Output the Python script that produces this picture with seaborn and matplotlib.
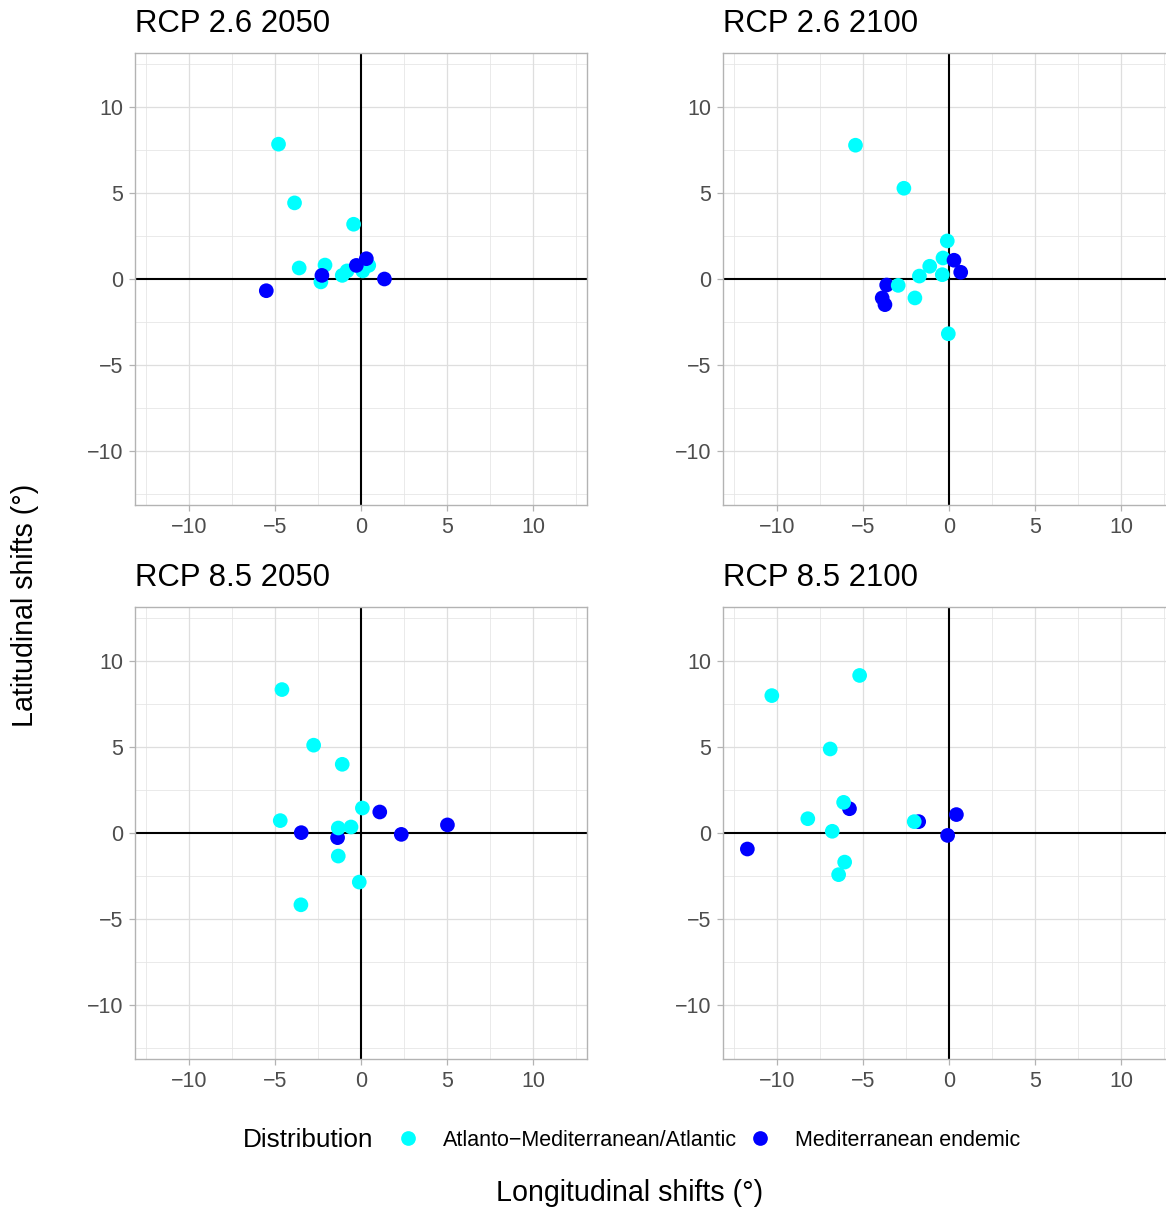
import numpy as np
import pandas as pd
import matplotlib
matplotlib.use("Agg")
import matplotlib.pyplot as plt
import seaborn as sns

# valores (deslocamentos em graus)
grupos = ["Atlanto−Mediterranean/Atlantic", "Mediterranean endemic"]
cores = {"Atlanto−Mediterranean/Atlantic": "#00FFFF", "Mediterranean endemic": "#0000FF"}
A, M = grupos

titulos = ["RCP 2.6 2050", "RCP 2.6 2100", "RCP 8.5 2050", "RCP 8.5 2100"]

lon_26_2050 = [-4.79, -3.86, -0.43, -3.59, -2.09, -2.33, -2.27, -5.50, -1.09, -0.81, 0.45, 0.10, -0.27, 0.31, 1.36]
lat_26_2050 = [7.83, 4.42, 3.18, 0.64, 0.81, -0.17, 0.21, -0.68, 0.21, 0.47, 0.79, 0.47, 0.79, 1.18, 0.00]
dist_26_2050 = [A, A, A, A, A, A, M, M, A, A, A, A, M, M, M]

lon_26_2100 = [-5.43, -2.62, -0.10, -0.35, 0.29, 0.68, -1.12, -1.72, -0.39, -3.62, -2.95, -3.88, -3.72, -1.98, -0.04]
lat_26_2100 = [7.77, 5.27, 2.21, 1.22, 1.09, 0.39, 0.74, 0.17, 0.25, -0.35, -0.37, -1.10, -1.49, -1.10, -3.18]
dist_26_2100 = [A, A, A, A, M, M, A, A, A, M, A, M, M, A, A]

lon_85_2050 = [-4.59, -2.75, -1.09, 0.08, 1.09, -4.69, -3.47, -1.36, -1.32, -0.58, 2.34, 5.02, -1.32, -0.10, -3.49]
lat_85_2050 = [8.33, 5.10, 3.99, 1.45, 1.22, 0.72, 0.02, -0.27, 0.29, 0.35, -0.08, 0.47, -1.34, -2.85, -4.17]
dist_85_2050 = [A, A, A, A, M, A, M, M, A, A, M, M, A, A, A]

lon_85_2100 = [-5.19, -10.29, -6.90, -5.78, -6.12, -8.20, -6.78, -1.76, -2.02, 0.43, -0.08, -11.71, -6.06, -6.41]
lat_85_2100 = [9.15, 7.98, 4.88, 1.41, 1.78, 0.83, 0.10, 0.66, 0.66, 1.07, -0.14, -0.93, -1.69, -2.42]
dist_85_2100 = [A, A, A, M, A, A, A, M, A, M, M, M, A, A]

paineis = [
    (lon_26_2050, lat_26_2050, dist_26_2050),
    (lon_26_2100, lat_26_2100, dist_26_2100),
    (lon_85_2050, lat_85_2050, dist_85_2050),
    (lon_85_2100, lat_85_2100, dist_85_2100),
]

sns.set_style("white")
plt.rcParams["font.family"] = ["Liberation Sans", "DejaVu Sans"]
plt.rcParams["text.color"] = "black"

W, H = 1166, 1207
fig = plt.figure(figsize=(W / 100, H / 100), dpi=100)

# posições dos painéis em pixels (esquerda, topo)
lefts = [135, 723, 135, 723]
tops = [53, 53, 607, 607]
lado = 452
lim = 13.125

handles = labels = None
for i, (lon, lat, dist) in enumerate(paineis):
    ax = fig.add_axes([lefts[i] / W, (H - tops[i] - lado) / H, lado / W, lado / H])
    df = pd.DataFrame({"lon": lon, "lat": lat, "Distribution": dist})
    ax.set_xlim(-lim, lim)
    ax.set_ylim(-lim, lim)
    for v in [-12.5, -7.5, -2.5, 2.5, 7.5, 12.5]:
        ax.axvline(v, color="#E6E6E6", lw=0.6, zorder=0)
        ax.axhline(v, color="#E6E6E6", lw=0.6, zorder=0)
    for v in [-10, -5, 5, 10]:
        ax.axvline(v, color="#DEDEDE", lw=0.9, zorder=0)
        ax.axhline(v, color="#DEDEDE", lw=0.9, zorder=0)
    ax.axhline(0, color="black", lw=1.5, zorder=1)
    ax.axvline(0, color="black", lw=1.5, zorder=1)
    sns.scatterplot(data=df, x="lon", y="lat", hue="Distribution", hue_order=grupos,
                    palette=cores, s=112, linewidth=0, ax=ax, zorder=3, legend=(i == 0))
    if i == 0:
        handles, labels = ax.get_legend_handles_labels()
        ax.get_legend().remove()
    ax.set_xticks([-10, -5, 0, 5, 10])
    ax.set_yticks([-10, -5, 0, 5, 10])
    ax.set_xlabel("")
    ax.set_ylabel("")
    ax.tick_params(axis="both", length=4.3, width=0.9, color="#B3B3B3", pad=4,
                   labelsize=15.5, labelcolor="#4D4D4D", direction="out",
                   bottom=True, left=True)
    for sp in ax.spines.values():
        sp.set_color("#B3B3B3")
        sp.set_linewidth(1.0)
    fig.text(lefts[i] / W, (H - tops[i] + 21) / H, titulos[i], fontsize=22.4,
             ha="left", va="baseline", color="black")

fig.text(25 / W, 0.4988, "Latitudinal shifts (°)", rotation=90, fontsize=20.6,
         ha="center", va="center")
fig.text(630 / W, 14 / H, "Longitudinal shifts (°)", fontsize=20.6,
         ha="center", va="center")

fig.text(243 / W, (H - 1140) / H, "Distribution", fontsize=18.8, ha="left", va="center")
fig.legend(handles, labels, loc="center left", bbox_to_anchor=(397.3 / W, (H - 1140) / H),
           ncol=2, frameon=False, fontsize=15.5, handlelength=1.0, handletextpad=1.13,
           columnspacing=0.57, borderpad=0, borderaxespad=0, markerscale=1.0,
           labelcolor="black")

fig.savefig("out.png", dpi=100)
plt.close()
